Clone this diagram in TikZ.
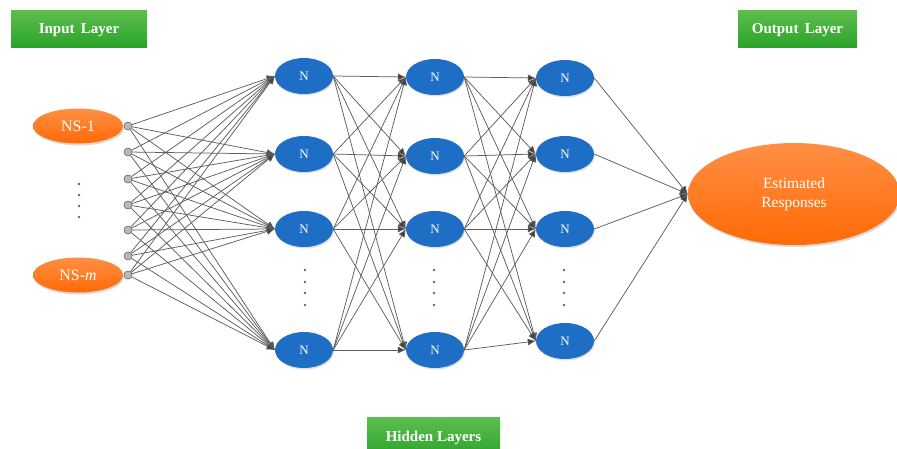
\documentclass[tikz,border=0pt]{standalone}
\usepackage{fontspec}
\setmainfont{Liberation Serif}
\usetikzlibrary{arrows.meta,shadows,shapes.geometric}
\definecolor{nblue}{HTML}{1E6EC6}
\definecolor{ortop}{HTML}{FF8F45}
\definecolor{orbot}{HTML}{FF6A05}
\definecolor{grtop}{HTML}{5EBE4E}
\definecolor{grbot}{HTML}{2BA32B}
\definecolor{lineg}{HTML}{5E5E5E}
\definecolor{tipg}{HTML}{404040}
\begin{document}
\begin{tikzpicture}[x=1pt,y=-1pt,
  layerbox/.style={rectangle, minimum width=136pt, minimum height=37pt, inner sep=0pt,
    top color=grtop, bottom color=grbot, draw=none, text=white,
    font=\bfseries\fontsize{15}{17}\selectfont},
  neuron/.style={ellipse, fill=nblue, minimum width=58pt, minimum height=36pt, inner sep=0pt,
    text=white, font=\fontsize{13}{15}\selectfont,
    drop shadow={shadow xshift=0.8pt, shadow yshift=-1.5pt, opacity=0.25}},
  orange/.style={ellipse, top color=ortop, bottom color=orbot, inner sep=0pt, text=white,
    drop shadow={shadow xshift=1pt, shadow yshift=-2pt, opacity=0.3}},
  inp/.style={circle, fill=gray!55, draw=gray!75!black, line width=0.4pt, minimum size=8pt, inner sep=0pt},
  conn/.style={draw=lineg, line width=0.75pt, -{Latex[length=8pt,width=7pt,fill=tipg]}},
  vdot/.style={circle, fill=gray!80!black, minimum size=2.8pt, inner sep=0pt},
  labtext/.style={text=white, font=\bfseries\fontsize{15}{17}\selectfont, inner sep=0pt},
]
\useasboundingbox (0,0) rectangle (897,448);

% layer labels
\node[layerbox] (lin) at (79,28.5) {};
\node[labtext] (tin) at (79,30.5) {Input\, Layer};
\node[layerbox, minimum width=119pt] (lout) at (797.5,28.5) {};
\node[labtext] (tout) at (797.5,30.5) {Output\, Layer};
\begin{scope}
\clip (0,0) rectangle (897,448);
\node[layerbox, minimum width=133pt, minimum height=40pt] (lhid) at (433.5,437) {};
\node[labtext] (thid) at (433.5,437.5) {Hidden Layers};
\end{scope}

% input nodes
\node[orange, minimum width=90pt, minimum height=35pt, font=\fontsize{16}{18}\selectfont] (ns1) at (78,126) {NS-1};
\node[orange, minimum width=90pt, minimum height=35pt, font=\fontsize{16}{18}\selectfont] (nsm) at (78,275) {NS-\textit{m}};
\foreach \y [count=\k] in {184,195,206,217} \node[vdot] (ida\k) at (79,\y) {};

% input circles
\foreach \y [count=\i] in {126,152,179,205,230,256,275}
  \node[inp] (c\i) at (128,\y) {};

% hidden layers
\foreach \y [count=\j] in {76,154,229,350}
  \node[neuron] (a\j) at (304,\y) {N};
\foreach \y [count=\j] in {77,156,229,350}
  \node[neuron] (b\j) at (435,\y) {N};
\foreach \y [count=\j] in {78,154,229,341}
  \node[neuron] (d\j) at (565,\y) {N};
\foreach \y [count=\k] in {270,282,293,305} {
  \node[vdot] (da\k) at (305,\y) {};
  \node[vdot] (db\k) at (434,\y) {};
  \node[vdot] (dd\k) at (564,\y) {};
}

% output
\node[orange, minimum width=212pt, minimum height=102pt, align=center,
  font=\fontsize{15.5}{19}\selectfont] (out) at (794,194) {Estimated\\Responses};

% connections
\foreach \i in {1,...,7}
  \foreach \j in {1,...,4}
    \draw[conn] (c\i) -- (a\j.west);
\foreach \i in {1,...,4}
  \foreach \j in {1,...,4} {
    \draw[conn] (a\i.east) -- (b\j.west);
    \draw[conn] (b\i.east) -- (d\j.west);
  }
\foreach \i in {1,...,4}
  \draw[conn] (d\i.east) -- (out.west);

% redraw input circles on top
\foreach \y [count=\i] in {126,152,179,205,230,256,275}
  \node[inp] at (c\i) {};
\end{tikzpicture}
\end{document}
